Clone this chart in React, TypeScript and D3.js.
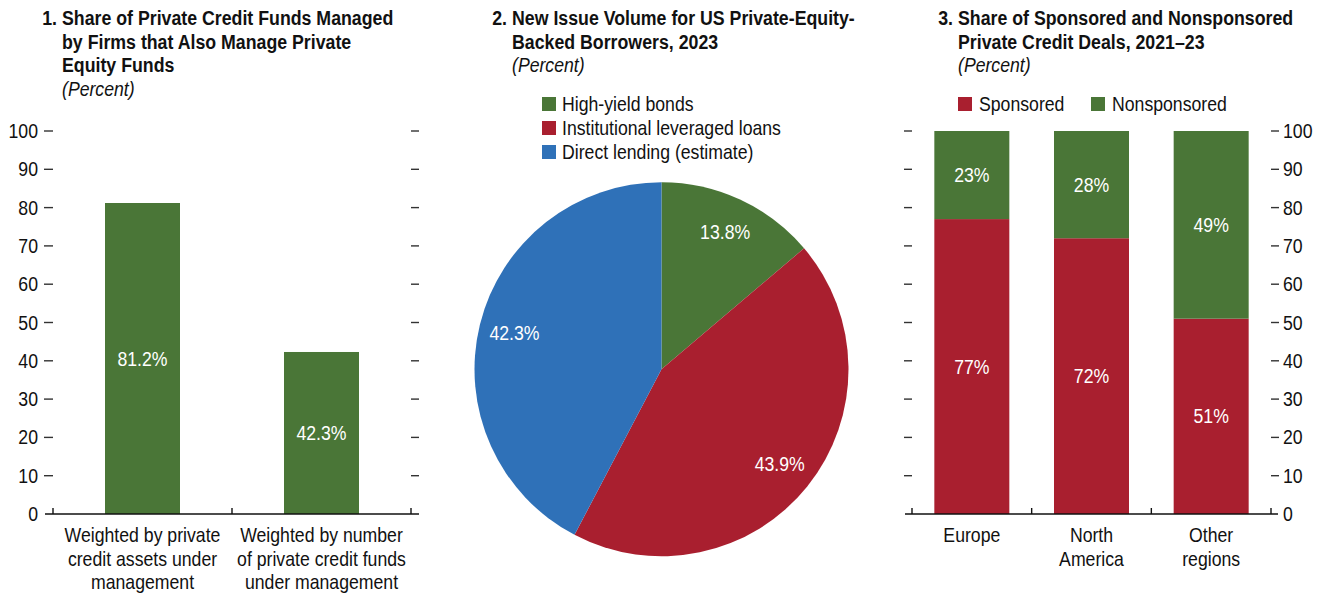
import React from "react";
import * as d3 from "d3";

const FONT = "'Liberation Sans', Arial, sans-serif";
const SX_BOLD = 0.845;
const SX_REG = 0.862;
const GREEN = "#4A7637";
const RED = "#A91F2F";
const BLUE = "#2F71B8";

// Panel 1
const p1Categories = [
  ["Weighted by private", "credit assets under", "management"],
  ["Weighted by number", "of private credit funds", "under management"],
];
const p1Values = [81.2, 42.3];

// Panel 2
const p2Labels = ["High-yield bonds", "Institutional leveraged loans", "Direct lending (estimate)"];
const p2Values = [13.8, 43.9, 42.3];
const p2Colors = [GREEN, RED, BLUE];

// Panel 3
const p3Categories = [["Europe"], ["North", "America"], ["Other", "regions"]];
const p3Sponsored = [77, 72, 51];
const p3Nonsponsored = [23, 28, 49];

const yTicks = [0, 10, 20, 30, 40, 50, 60, 70, 80, 90, 100];

const FS = 20.5;

function T({
  x, y, anchor = "start", size = FS, weight = "normal", italic = false, fill = "#111", children,
}: {
  x: number; y: number; anchor?: string; size?: number; weight?: string; italic?: boolean; fill?: string; children: React.ReactNode;
}) {
  const sx = weight === "bold" ? SX_BOLD : SX_REG;
  return (
    <text
      transform={`translate(${x},${y}) scale(${sx},1)`}
      textAnchor={anchor as any}
      fontSize={size}
      fontWeight={weight}
      fontStyle={italic ? "italic" : "normal"}
      fill={fill}
      fontFamily={FONT}
    >
      {children}
    </text>
  );
}

function Title({ x, num, lines, y0 }: { x: number; num: string; lines: string[]; y0: number }) {
  return (
    <g>
      <T x={x - 5} y={y0} anchor="end" weight="bold" size={21}>{num}</T>
      {lines.map((l, i) => (
        <T key={i} x={x} y={y0 + i * 23.7} weight="bold" size={21}>{l}</T>
      ))}
      <T x={x} y={y0 + lines.length * 23.7} italic size={FS}>(Percent)</T>
    </g>
  );
}

export default function App() {
  const y = d3.scaleLinear().domain([0, 100]).range([514, 131]);

  const x1 = d3.scaleBand<number>().domain(p1Values.map((_, i) => i)).range([53, 411]).padding(0);
  const bw1 = 75;

  const x3 = d3.scaleBand<number>().domain(p3Sponsored.map((_, i) => i)).range([912, 1271]).padding(0);
  const bw3 = 75;

  const cx = 661.5, cy = 369.3, r = 187;
  const pie = d3.pie<number>().sort(null).value((d) => d);
  const arcs = pie(p2Values);
  const arc = d3.arc<d3.PieArcDatum<number>>().innerRadius(0).outerRadius(r);
  const labelArc = d3.arc<d3.PieArcDatum<number>>().innerRadius(0).outerRadius(r * 1.62);

  const dy = 7;

  return (
    <svg width={1329} height={595} style={{ position: "absolute", left: 0, top: 0, background: "#fff" }}>
      <rect x={0} y={0} width={1329} height={595} fill="#fff" />
      {/* Panel 1 */}
      <Title x={62} num="1." y0={25} lines={["Share of Private Credit Funds Managed", "by Firms that Also Manage Private", "Equity Funds"]} />
      {yTicks.map((t) => (
        <g key={"p1" + t}>
          <T x={38} y={y(t) + dy} anchor="end">{t}</T>
          {t > 0 && <line x1={44} x2={53} y1={y(t)} y2={y(t)} stroke="#333" strokeWidth={1.4} />}
          {t > 0 && <line x1={411} x2={419} y1={y(t)} y2={y(t)} stroke="#333" strokeWidth={1.4} />}
        </g>
      ))}
      {p1Values.map((v, i) => {
        const cxb = (x1(i) as number) + x1.bandwidth() / 2;
        return (
          <g key={"b1" + i}>
            <rect x={cxb - bw1 / 2} y={y(v)} width={bw1} height={y(0) - y(v)} fill={GREEN} />
            <T x={cxb} y={(y(v) + y(0)) / 2 + dy} anchor="middle" fill="#fff">{v.toFixed(1)}%</T>
            {p1Categories[i].map((l, j) => (
              <T key={j} x={cxb} y={542 + j * 23.5} anchor="middle">{l}</T>
            ))}
          </g>
        );
      })}
      <line x1={45} x2={419} y1={y(0)} y2={y(0)} stroke="#111" strokeWidth={1.5} />
      {[0, 1, 2].map((k) => {
        const xx = 53 + k * x1.step();
        return <line key={"t1" + k} x1={xx} x2={xx} y1={y(0)} y2={y(0) - 6} stroke="#111" strokeWidth={1.4} />;
      })}

      {/* Panel 2 */}
      <Title x={512} num="2." y0={25} lines={["New Issue Volume for US Private-Equity-", "Backed Borrowers, 2023"]} />
      {p2Labels.map((l, i) => (
        <g key={"lg2" + i}>
          <rect x={542} y={97 + i * 24} width={14} height={14} fill={p2Colors[i]} />
          <T x={562} y={111 + i * 24}>{l}</T>
        </g>
      ))}
      <g transform={`translate(${cx},${cy})`}>
        {arcs.map((a, i) => (
          <path key={"s" + i} d={arc(a) as string} fill={p2Colors[i]} />
        ))}
        {arcs.map((a, i) => {
          const [lx, ly] = labelArc.centroid(a);
          return (
            <T key={"sl" + i} x={lx} y={ly + dy} anchor="middle" fill="#fff">{a.data.toFixed(1)}%</T>
          );
        })}
      </g>

      {/* Panel 3 */}
      <Title x={958} num="3." y0={25} lines={["Share of Sponsored and Nonsponsored", "Private Credit Deals, 2021–23"]} />
      <rect x={958} y={97} width={14} height={14} fill={RED} />
      <T x={979} y={111}>Sponsored</T>
      <rect x={1091} y={97} width={14} height={14} fill={GREEN} />
      <T x={1112} y={111}>Nonsponsored</T>
      {yTicks.map((t) => (
        <g key={"p3" + t}>
          <T x={1283} y={y(t) + dy}>{t}</T>
          {t > 0 && <line x1={904} x2={912} y1={y(t)} y2={y(t)} stroke="#333" strokeWidth={1.4} />}
          {t > 0 && <line x1={1271} x2={1279} y1={y(t)} y2={y(t)} stroke="#333" strokeWidth={1.4} />}
        </g>
      ))}
      {p3Sponsored.map((s, i) => {
        const n = p3Nonsponsored[i];
        const cxb = (x3(i) as number) + x3.bandwidth() / 2;
        return (
          <g key={"b3" + i}>
            <rect x={cxb - bw3 / 2} y={y(s)} width={bw3} height={y(0) - y(s)} fill={RED} />
            <rect x={cxb - bw3 / 2} y={y(s + n)} width={bw3} height={y(s) - y(s + n)} fill={GREEN} />
            <T x={cxb} y={y(s / 2) + dy} anchor="middle" fill="#fff">{s}%</T>
            <T x={cxb} y={y(s + n / 2) + dy} anchor="middle" fill="#fff">{n}%</T>
            {p3Categories[i].map((l, j) => (
              <T key={j} x={cxb} y={542 + j * 23.5} anchor="middle">{l}</T>
            ))}
          </g>
        );
      })}
      <line x1={905} x2={1278} y1={y(0)} y2={y(0)} stroke="#111" strokeWidth={1.5} />
      {[0, 1, 2, 3].map((k) => {
        const xx = 912 + k * x3.step();
        return <line key={"t3" + k} x1={xx} x2={xx} y1={y(0)} y2={y(0) - 6} stroke="#111" strokeWidth={1.4} />;
      })}
    </svg>
  );
}
